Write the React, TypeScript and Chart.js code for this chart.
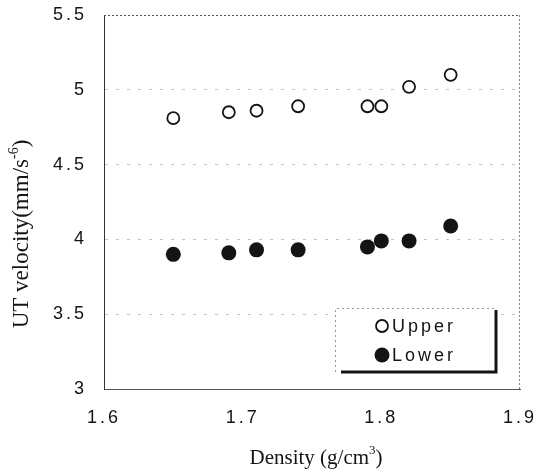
import React, { useEffect, useRef } from "react";
import { Chart, registerables } from "chart.js";

Chart.register(...registerables);

// ---- data ----
const density = [1.65, 1.69, 1.71, 1.74, 1.79, 1.8, 1.82, 1.85];
const upperVelocity = [4.81, 4.85, 4.86, 4.89, 4.89, 4.89, 5.02, 5.1];
const lowerVelocity = [3.9, 3.91, 3.93, 3.93, 3.95, 3.99, 3.99, 4.09];
const seriesNames = ["Upper", "Lower"];
const xRange = [1.6, 1.9];
const yRange = [3, 5.5];
const xStep = 0.1;
const yStep = 0.5;
// axis titles: [main text, superscript, closing text]
const xTitleParts = ["Density (g/cm", "3", ")"];
const yTitleParts = ["UT velocity(mm/s", "-6", ")"];

const SANS = "'Liberation Sans', Arial, sans-serif";
const SERIF = "'Liberation Serif', 'Times New Roman', serif";
const INK = "#141414";
const SANS_SPACING = "3px";

function drawTitle(
  ctx: CanvasRenderingContext2D,
  parts: string[],
  size: number,
  supSize: number
) {
  ctx.font = `${size}px ${SERIF}`;
  const w1 = ctx.measureText(parts[0]).width;
  const w3 = ctx.measureText(parts[2]).width;
  ctx.font = `${supSize}px ${SERIF}`;
  const w2 = ctx.measureText(parts[1]).width;
  const total = w1 + w2 + w3;
  let x = -total / 2;
  ctx.textAlign = "left";
  ctx.textBaseline = "middle";
  ctx.font = `${size}px ${SERIF}`;
  ctx.fillText(parts[0], x, 0);
  x += w1;
  ctx.font = `${supSize}px ${SERIF}`;
  ctx.fillText(parts[1], x, -size * 0.33);
  x += w2;
  ctx.font = `${size}px ${SERIF}`;
  ctx.fillText(parts[2], x, 0);
}

export default function App() {
  const ref = useRef<HTMLCanvasElement>(null);

  useEffect(() => {
    const canvas = ref.current;
    if (!canvas) return;

    const spacing = {
      id: "spacing",
      beforeUpdate(c: any) {
        c.ctx.letterSpacing = SANS_SPACING;
      },
      beforeDraw(c: any) {
        c.ctx.letterSpacing = SANS_SPACING;
      },
    };

    const frame = {
      id: "frame",
      afterDraw(c: any) {
        const { ctx, chartArea } = c;
        const { left, right, top, bottom } = chartArea;
        ctx.save();
        // top and right border (dotted)
        ctx.strokeStyle = "#555";
        ctx.lineWidth = 1;
        ctx.setLineDash([2, 2]);
        ctx.beginPath();
        ctx.moveTo(left, top + 0.5);
        ctx.lineTo(right, top + 0.5);
        ctx.stroke();
        ctx.strokeStyle = "#888";
        ctx.beginPath();
        ctx.moveTo(right - 0.5, top);
        ctx.lineTo(right - 0.5, bottom);
        ctx.stroke();

        // legend box
        const bx1 = right - 185;
        const bx2 = right - 24;
        const by1 = bottom - 81;
        const by2 = bottom - 17;
        ctx.fillStyle = "#fff";
        ctx.fillRect(bx1, by1, bx2 - bx1, by2 - by1);
        ctx.strokeStyle = "#999";
        ctx.setLineDash([2, 3]);
        ctx.beginPath();
        ctx.moveTo(bx1 + 0.5, by2);
        ctx.lineTo(bx1 + 0.5, by1 + 0.5);
        ctx.lineTo(bx2, by1 + 0.5);
        ctx.stroke();
        ctx.setLineDash([]);
        ctx.strokeStyle = INK;
        ctx.lineWidth = 3;
        ctx.beginPath();
        ctx.moveTo(bx2, by1 + 2);
        ctx.lineTo(bx2, by2 + 1.5);
        ctx.moveTo(bx1 + 6, by2);
        ctx.lineTo(bx2 + 1.5, by2);
        ctx.stroke();

        // legend items
        const mx = bx1 + 47;
        const tx = bx1 + 57;
        const y1 = by1 + 18;
        const y2 = by1 + 47;
        ctx.lineWidth = 1.8;
        ctx.beginPath();
        ctx.arc(mx, y1, 6, 0, Math.PI * 2);
        ctx.fillStyle = "#fff";
        ctx.fill();
        ctx.stroke();
        ctx.beginPath();
        ctx.arc(mx, y2, 7.5, 0, Math.PI * 2);
        ctx.fillStyle = INK;
        ctx.fill();
        ctx.fillStyle = INK;
        ctx.letterSpacing = SANS_SPACING;
        ctx.font = `18px ${SANS}`;
        ctx.textBaseline = "middle";
        ctx.textAlign = "left";
        ctx.fillText(seriesNames[0], tx, y1 + 1);
        ctx.fillText(seriesNames[1], tx, y2 + 1);

        // axis titles
        ctx.letterSpacing = "0px";
        ctx.fillStyle = INK;
        ctx.save();
        ctx.translate((left + right) / 2 + 4, bottom + 69);
        drawTitle(ctx, xTitleParts, 21, 13);
        ctx.restore();
        ctx.save();
        ctx.translate(22, (top + bottom) / 2 + 32);
        ctx.rotate(-Math.PI / 2);
        drawTitle(ctx, yTitleParts, 23, 14);
        ctx.restore();
        ctx.restore();
      },
    };

    const chart = new Chart(canvas, {
      type: "scatter",
      data: {
        datasets: [
          {
            label: seriesNames[0],
            data: density.map((x, i) => ({ x, y: upperVelocity[i] })),
            pointStyle: "circle",
            pointRadius: 6,
            pointBorderWidth: 1.8,
            pointBackgroundColor: "#fff",
            pointBorderColor: INK,
            showLine: false,
          },
          {
            label: seriesNames[1],
            data: density.map((x, i) => ({ x, y: lowerVelocity[i] })),
            pointStyle: "circle",
            pointRadius: 7.5,
            pointBorderWidth: 0,
            pointBackgroundColor: INK,
            pointBorderColor: INK,
            showLine: false,
          },
        ],
      },
      options: {
        responsive: false,
        animation: false,
        devicePixelRatio: 1,
        layout: { padding: { left: 0, right: 23, top: 15, bottom: 0 } },
        plugins: {
          legend: { display: false },
          tooltip: { enabled: false },
        },
        scales: {
          x: {
            type: "linear",
            min: xRange[0],
            max: xRange[1],
            afterFit(scale: any) {
              scale.height = 84;
              scale.paddingLeft = 0;
              scale.paddingRight = 0;
            },
            ticks: {
              stepSize: xStep,
              padding: 18,
              color: INK,
              font: { family: SANS, size: 18 },
              callback: (v: any) => Number(v).toFixed(1),
              maxRotation: 0,
            },
            grid: { display: false, drawTicks: false },
            border: { display: true, color: "#555", width: 1 },
            title: { display: false },
          },
          y: {
            type: "linear",
            min: yRange[0],
            max: yRange[1],
            afterFit(scale: any) {
              scale.width = 104;
              scale.paddingTop = 0;
              scale.paddingBottom = 0;
            },
            ticks: {
              stepSize: yStep,
              padding: 17,
              color: INK,
              font: { family: SANS, size: 18 },
              callback: (v: any) => String(Number(Number(v).toFixed(1))),
            },
            grid: {
              drawTicks: false,
              color: (ctx: any) =>
                ctx.tick && (ctx.tick.value === yRange[0] || ctx.tick.value === yRange[1])
                  ? "rgba(0,0,0,0)"
                  : "#c2c2c2",
              lineWidth: 1,
            },
            border: { display: true, color: "#333", width: 1, dash: [3, 8] },
            title: { display: false },
          },
        },
      },
      plugins: [spacing, frame],
    } as any);

    return () => chart.destroy();
  }, []);

  return (
    <div
      style={{
        position: "fixed",
        left: 0,
        top: 0,
        width: 543,
        height: 473,
        background: "#fff",
      }}
    >
      <canvas ref={ref} width={543} height={473} style={{ display: "block" }} />
    </div>
  );
}
